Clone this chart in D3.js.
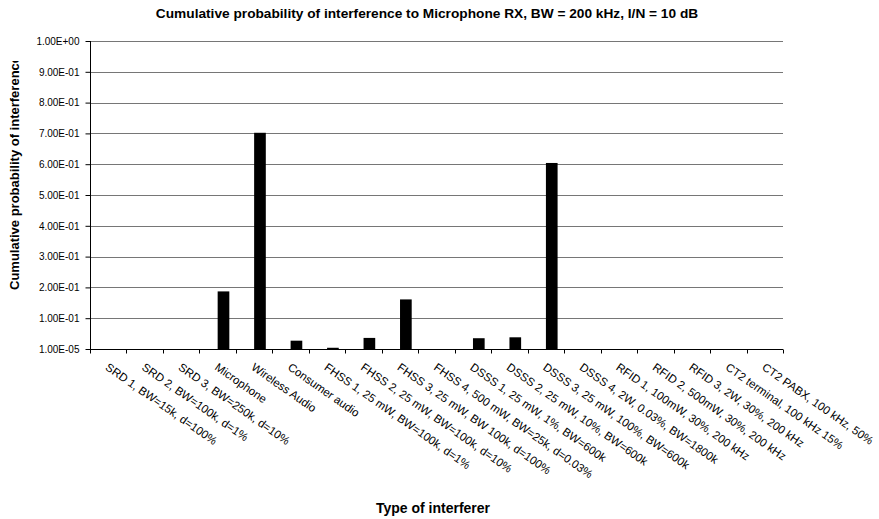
<!DOCTYPE html>
<html>
<head>
<meta charset="utf-8">
<script src="https://cdn.jsdelivr.net/npm/d3@7"></script>
<style>
  html, body { margin: 0; padding: 0; background: #fff; }
  svg { display: block; font-family: Arial, "Liberation Sans", sans-serif; }
</style>
</head>
<body>
<svg id="chart" width="879" height="519"></svg>
<script>
// Interferer types along the x axis
const categories = [
  "SRD 1, BW=15k, d=100%",
  "SRD 2, BW=100k, d=1%",
  "SRD 3, BW=250k, d=10%",
  "Microphone",
  "Wireless Audio",
  "Consumer audio",
  "FHSS 1, 25 mW, BW=100k, d=1%",
  "FHSS 2, 25 mW, BW=100k, d=10%",
  "FHSS 3, 25 mW, BW 100k, d=100%",
  "FHSS 4, 500 mW, BW=25k, d=0.03%",
  "DSSS 1, 25 mW, 1%, BW=600k",
  "DSSS 2, 25 mW, 10%, BW=600k",
  "DSSS 3, 25 mW, 100%, BW=600k",
  "DSSS 4, 2W, 0.03%, BW=1800k",
  "RFID 1, 100mW, 30%, 200 kHz",
  "RFID 2, 500mW, 30%, 200 kHz",
  "RFID 3, 2W, 30%, 200 kHz",
  "CT2 terminal, 100 kHz 15%",
  "CT2 PABX, 100 kHz, 50%"
];

// Cumulative probability of interference for each type
const probability = [
  0, 0, 0, 0.187, 0.702, 0.027, 0.004, 0.036, 0.161, 0,
  0.035, 0.038, 0.604, 0, 0, 0, 0, 0, 0
];

// Value-axis tick positions
const yTicks = [1e-5, 0.1, 0.2, 0.3, 0.4, 0.5, 0.6, 0.7, 0.8, 0.9, 1.0];

const titleText = "Cumulative probability of interference to Microphone RX, BW = 200 kHz, I/N = 10 dB";
const xTitleText = "Type of interferer";
const yTitleText = "Cumulative probability of interference";

const svg = d3.select("#chart");
const plot = { left: 90, right: 783, top: 41, bottom: 349 };

const x = d3.scaleBand()
  .domain(categories)
  .range([plot.left, plot.right])
  .paddingInner(0).paddingOuter(0);

const y = d3.scaleLinear()
  .domain([1e-5, 1])
  .range([plot.bottom, plot.top]);

// Scientific tick format like 1.00E-01
function sci(v) {
  const s = v.toExponential(2).toUpperCase();
  return s.replace(/E([+-])(\d)$/, "E$10$2");
}

// Horizontal gridlines
svg.append("g")
  .selectAll("line")
  .data(yTicks.slice(1))
  .join("line")
  .attr("x1", plot.left).attr("x2", plot.right)
  .attr("y1", d => Math.round(y(d)) + 0.5)
  .attr("y2", d => Math.round(y(d)) + 0.5)
  .attr("stroke", "#767676")
  .attr("stroke-width", 1)
  .attr("shape-rendering", "crispEdges");

// Bars: each sits in the right half of its category slot
const bw = x.bandwidth();
svg.append("g")
  .selectAll("rect")
  .data(categories.map((c, i) => ({ c, v: probability[i] })).filter(d => d.v > 0))
  .join("rect")
  .attr("x", d => x(d.c) + bw / 2)
  .attr("width", bw * 0.32)
  .attr("y", d => y(d.v))
  .attr("height", d => y(1e-5) - y(d.v))
  .attr("fill", "#000");

// Y axis
const yAxis = d3.axisLeft(y)
  .tickValues(yTicks)
  .tickFormat(sci)
  .tickSize(5)
  .tickPadding(6);
const gy = svg.append("g")
  .attr("transform", `translate(${plot.left + 0.5},0)`)
  .call(yAxis);
gy.select(".domain").attr("d", `M0,${plot.top}V${plot.bottom}`).attr("stroke", "#000");
gy.selectAll(".tick line").attr("stroke", "#000");
gy.selectAll(".tick text")
  .attr("font-size", 10)
  .attr("font-family", "Arial, 'Liberation Sans', sans-serif")
  .attr("fill", "#000");

// X axis: tick marks at category boundaries
const gx = svg.append("g")
  .attr("transform", `translate(0,${plot.bottom + 0.5})`);
gx.append("line")
  .attr("x1", plot.left).attr("x2", plot.right)
  .attr("stroke", "#000");
const bounds = categories.map(c => x(c)).concat([plot.right]);
gx.selectAll("line.tk")
  .data(bounds)
  .join("line")
  .attr("class", "tk")
  .attr("x1", d => Math.round(d) + 0.5).attr("x2", d => Math.round(d) + 0.5)
  .attr("y1", 0).attr("y2", 4)
  .attr("stroke", "#000");

// Rotated category labels
gx.selectAll("text")
  .data(categories)
  .join("text")
  .attr("transform", d => `translate(${x(d) + bw / 2 + 1},${13}) rotate(35)`)
  .attr("text-anchor", "start")
  .attr("dy", "0.7em")
  .attr("font-size", 11.5)
  .attr("fill", "#000")
  .text(d => d);

// Chart title
svg.append("text")
  .attr("x", 427).attr("y", 18)
  .attr("text-anchor", "middle")
  .attr("font-size", 13.7)
  .attr("font-weight", "bold")
  .text(titleText);

// X axis title
svg.append("text")
  .attr("x", 433).attr("y", 513)
  .attr("text-anchor", "middle")
  .attr("font-size", 14)
  .attr("font-weight", "bold")
  .text(xTitleText);

// Y axis title, clipped at the top
svg.append("clipPath").attr("id", "yclip")
  .append("rect").attr("x", 0).attr("y", 61).attr("width", 40).attr("height", 300);
svg.append("g")
  .attr("clip-path", "url(#yclip)")
  .append("text")
  .attr("transform", "translate(19,290) rotate(-90)")
  .attr("text-anchor", "start")
  .attr("font-size", 13)
  .attr("font-weight", "bold")
  .text(yTitleText);
</script>
</body>
</html>
